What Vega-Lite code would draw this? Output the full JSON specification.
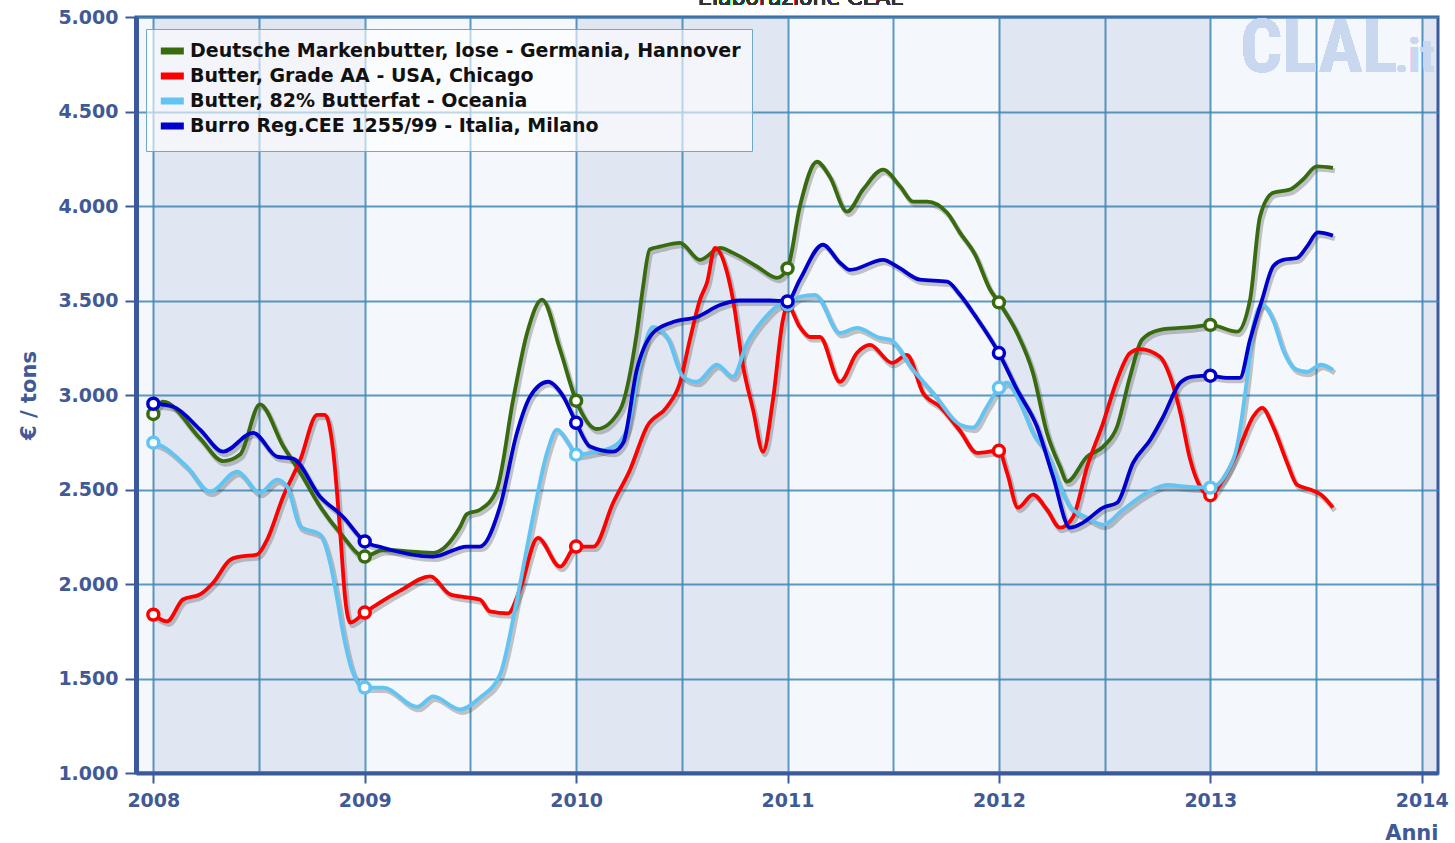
{
"$schema": "https://vega.github.io/schema/vega-lite/v6.json",
"width": 1302, "height": 756,
"autosize": "none",
"padding": {"left": 136, "top": 17, "right": 17, "bottom": 70},
"background": "#ffffff",
"config": {"view": {"fill": "#F4F7FB", "stroke": "#3A5A9B", "strokeWidth": 3}, "font": "DejaVu Sans"},
"datasets": {
"fasce": [{"da": 2008, "a": 2009}, {"da": 2010, "a": 2011}, {"da": 2012, "a": 2013}, {"da": 2014, "a": 2015}],
"serie": [
{"serie":"Deutsche Markenbutter, lose - Germania, Hannover","t":2008.000,"v":2900},
{"serie":"Deutsche Markenbutter, lose - Germania, Hannover","t":2008.046,"v":2965},
{"serie":"Deutsche Markenbutter, lose - Germania, Hannover","t":2008.221,"v":2770},
{"serie":"Deutsche Markenbutter, lose - Germania, Hannover","t":2008.330,"v":2650},
{"serie":"Deutsche Markenbutter, lose - Germania, Hannover","t":2008.410,"v":2685},
{"serie":"Deutsche Markenbutter, lose - Germania, Hannover","t":2008.504,"v":2950},
{"serie":"Deutsche Markenbutter, lose - Germania, Hannover","t":2008.614,"v":2730},
{"serie":"Deutsche Markenbutter, lose - Germania, Hannover","t":2008.695,"v":2590},
{"serie":"Deutsche Markenbutter, lose - Germania, Hannover","t":2008.789,"v":2410},
{"serie":"Deutsche Markenbutter, lose - Germania, Hannover","t":2008.884,"v":2270},
{"serie":"Deutsche Markenbutter, lose - Germania, Hannover","t":2009.000,"v":2145},
{"serie":"Deutsche Markenbutter, lose - Germania, Hannover","t":2009.087,"v":2180},
{"serie":"Deutsche Markenbutter, lose - Germania, Hannover","t":2009.324,"v":2165},
{"serie":"Deutsche Markenbutter, lose - Germania, Hannover","t":2009.450,"v":2300},
{"serie":"Deutsche Markenbutter, lose - Germania, Hannover","t":2009.483,"v":2370},
{"serie":"Deutsche Markenbutter, lose - Germania, Hannover","t":2009.545,"v":2393},
{"serie":"Deutsche Markenbutter, lose - Germania, Hannover","t":2009.625,"v":2500},
{"serie":"Deutsche Markenbutter, lose - Germania, Hannover","t":2009.702,"v":2975},
{"serie":"Deutsche Markenbutter, lose - Germania, Hannover","t":2009.768,"v":3328},
{"serie":"Deutsche Markenbutter, lose - Germania, Hannover","t":2009.839,"v":3505},
{"serie":"Deutsche Markenbutter, lose - Germania, Hannover","t":2009.924,"v":3240},
{"serie":"Deutsche Markenbutter, lose - Germania, Hannover","t":2010.000,"v":2970},
{"serie":"Deutsche Markenbutter, lose - Germania, Hannover","t":2010.098,"v":2820},
{"serie":"Deutsche Markenbutter, lose - Germania, Hannover","t":2010.207,"v":2920},
{"serie":"Deutsche Markenbutter, lose - Germania, Hannover","t":2010.287,"v":3328},
{"serie":"Deutsche Markenbutter, lose - Germania, Hannover","t":2010.315,"v":3560},
{"serie":"Deutsche Markenbutter, lose - Germania, Hannover","t":2010.348,"v":3770},
{"serie":"Deutsche Markenbutter, lose - Germania, Hannover","t":2010.396,"v":3785},
{"serie":"Deutsche Markenbutter, lose - Germania, Hannover","t":2010.491,"v":3805},
{"serie":"Deutsche Markenbutter, lose - Germania, Hannover","t":2010.586,"v":3715},
{"serie":"Deutsche Markenbutter, lose - Germania, Hannover","t":2010.681,"v":3778},
{"serie":"Deutsche Markenbutter, lose - Germania, Hannover","t":2010.742,"v":3752},
{"serie":"Deutsche Markenbutter, lose - Germania, Hannover","t":2010.855,"v":3680},
{"serie":"Deutsche Markenbutter, lose - Germania, Hannover","t":2010.950,"v":3620},
{"serie":"Deutsche Markenbutter, lose - Germania, Hannover","t":2011.000,"v":3670},
{"serie":"Deutsche Markenbutter, lose - Germania, Hannover","t":2011.058,"v":3996},
{"serie":"Deutsche Markenbutter, lose - Germania, Hannover","t":2011.139,"v":4234},
{"serie":"Deutsche Markenbutter, lose - Germania, Hannover","t":2011.200,"v":4155},
{"serie":"Deutsche Markenbutter, lose - Germania, Hannover","t":2011.281,"v":3970},
{"serie":"Deutsche Markenbutter, lose - Germania, Hannover","t":2011.357,"v":4087},
{"serie":"Deutsche Markenbutter, lose - Germania, Hannover","t":2011.452,"v":4192},
{"serie":"Deutsche Markenbutter, lose - Germania, Hannover","t":2011.533,"v":4103},
{"serie":"Deutsche Markenbutter, lose - Germania, Hannover","t":2011.594,"v":4023},
{"serie":"Deutsche Markenbutter, lose - Germania, Hannover","t":2011.661,"v":4023},
{"serie":"Deutsche Markenbutter, lose - Germania, Hannover","t":2011.755,"v":3964},
{"serie":"Deutsche Markenbutter, lose - Germania, Hannover","t":2011.816,"v":3858},
{"serie":"Deutsche Markenbutter, lose - Germania, Hannover","t":2011.887,"v":3743},
{"serie":"Deutsche Markenbutter, lose - Germania, Hannover","t":2011.958,"v":3558},
{"serie":"Deutsche Markenbutter, lose - Germania, Hannover","t":2012.000,"v":3490},
{"serie":"Deutsche Markenbutter, lose - Germania, Hannover","t":2012.086,"v":3328},
{"serie":"Deutsche Markenbutter, lose - Germania, Hannover","t":2012.161,"v":3117},
{"serie":"Deutsche Markenbutter, lose - Germania, Hannover","t":2012.227,"v":2800},
{"serie":"Deutsche Markenbutter, lose - Germania, Hannover","t":2012.289,"v":2620},
{"serie":"Deutsche Markenbutter, lose - Germania, Hannover","t":2012.322,"v":2542},
{"serie":"Deutsche Markenbutter, lose - Germania, Hannover","t":2012.417,"v":2674},
{"serie":"Deutsche Markenbutter, lose - Germania, Hannover","t":2012.493,"v":2727},
{"serie":"Deutsche Markenbutter, lose - Germania, Hannover","t":2012.559,"v":2833},
{"serie":"Deutsche Markenbutter, lose - Germania, Hannover","t":2012.620,"v":3097},
{"serie":"Deutsche Markenbutter, lose - Germania, Hannover","t":2012.677,"v":3293},
{"serie":"Deutsche Markenbutter, lose - Germania, Hannover","t":2012.762,"v":3345},
{"serie":"Deutsche Markenbutter, lose - Germania, Hannover","t":2012.918,"v":3360},
{"serie":"Deutsche Markenbutter, lose - Germania, Hannover","t":2013.000,"v":3371},
{"serie":"Deutsche Markenbutter, lose - Germania, Hannover","t":2013.126,"v":3335},
{"serie":"Deutsche Markenbutter, lose - Germania, Hannover","t":2013.188,"v":3505},
{"serie":"Deutsche Markenbutter, lose - Germania, Hannover","t":2013.235,"v":3945},
{"serie":"Deutsche Markenbutter, lose - Germania, Hannover","t":2013.297,"v":4070},
{"serie":"Deutsche Markenbutter, lose - Germania, Hannover","t":2013.377,"v":4087},
{"serie":"Deutsche Markenbutter, lose - Germania, Hannover","t":2013.438,"v":4140},
{"serie":"Deutsche Markenbutter, lose - Germania, Hannover","t":2013.504,"v":4210},
{"serie":"Deutsche Markenbutter, lose - Germania, Hannover","t":2013.580,"v":4202},
{"serie":"Butter, Grade AA - USA, Chicago","t":2008.000,"v":1838},
{"serie":"Butter, Grade AA - USA, Chicago","t":2008.065,"v":1802},
{"serie":"Butter, Grade AA - USA, Chicago","t":2008.140,"v":1918},
{"serie":"Butter, Grade AA - USA, Chicago","t":2008.221,"v":1945},
{"serie":"Butter, Grade AA - USA, Chicago","t":2008.283,"v":2007},
{"serie":"Butter, Grade AA - USA, Chicago","t":2008.363,"v":2128},
{"serie":"Butter, Grade AA - USA, Chicago","t":2008.410,"v":2145},
{"serie":"Butter, Grade AA - USA, Chicago","t":2008.490,"v":2155},
{"serie":"Butter, Grade AA - USA, Chicago","t":2008.538,"v":2234},
{"serie":"Butter, Grade AA - USA, Chicago","t":2008.614,"v":2462},
{"serie":"Butter, Grade AA - USA, Chicago","t":2008.695,"v":2657},
{"serie":"Butter, Grade AA - USA, Chicago","t":2008.775,"v":2895},
{"serie":"Butter, Grade AA - USA, Chicago","t":2008.812,"v":2895},
{"serie":"Butter, Grade AA - USA, Chicago","t":2008.850,"v":2710},
{"serie":"Butter, Grade AA - USA, Chicago","t":2008.884,"v":2270},
{"serie":"Butter, Grade AA - USA, Chicago","t":2008.908,"v":1918},
{"serie":"Butter, Grade AA - USA, Chicago","t":2008.932,"v":1796},
{"serie":"Butter, Grade AA - USA, Chicago","t":2009.000,"v":1849},
{"serie":"Butter, Grade AA - USA, Chicago","t":2009.073,"v":1903},
{"serie":"Butter, Grade AA - USA, Chicago","t":2009.168,"v":1965},
{"serie":"Butter, Grade AA - USA, Chicago","t":2009.310,"v":2040},
{"serie":"Butter, Grade AA - USA, Chicago","t":2009.404,"v":1945},
{"serie":"Butter, Grade AA - USA, Chicago","t":2009.483,"v":1929},
{"serie":"Butter, Grade AA - USA, Chicago","t":2009.545,"v":1918},
{"serie":"Butter, Grade AA - USA, Chicago","t":2009.592,"v":1855},
{"serie":"Butter, Grade AA - USA, Chicago","t":2009.678,"v":1845},
{"serie":"Butter, Grade AA - USA, Chicago","t":2009.734,"v":1971},
{"serie":"Butter, Grade AA - USA, Chicago","t":2009.819,"v":2244},
{"serie":"Butter, Grade AA - USA, Chicago","t":2009.924,"v":2092},
{"serie":"Butter, Grade AA - USA, Chicago","t":2010.000,"v":2198},
{"serie":"Butter, Grade AA - USA, Chicago","t":2010.083,"v":2198},
{"serie":"Butter, Grade AA - USA, Chicago","t":2010.175,"v":2430},
{"serie":"Butter, Grade AA - USA, Chicago","t":2010.255,"v":2605},
{"serie":"Butter, Grade AA - USA, Chicago","t":2010.335,"v":2833},
{"serie":"Butter, Grade AA - USA, Chicago","t":2010.430,"v":2938},
{"serie":"Butter, Grade AA - USA, Chicago","t":2010.491,"v":3065},
{"serie":"Butter, Grade AA - USA, Chicago","t":2010.538,"v":3293},
{"serie":"Butter, Grade AA - USA, Chicago","t":2010.586,"v":3505},
{"serie":"Butter, Grade AA - USA, Chicago","t":2010.619,"v":3595},
{"serie":"Butter, Grade AA - USA, Chicago","t":2010.657,"v":3778},
{"serie":"Butter, Grade AA - USA, Chicago","t":2010.714,"v":3648},
{"serie":"Butter, Grade AA - USA, Chicago","t":2010.742,"v":3505},
{"serie":"Butter, Grade AA - USA, Chicago","t":2010.790,"v":3150},
{"serie":"Butter, Grade AA - USA, Chicago","t":2010.837,"v":2921},
{"serie":"Butter, Grade AA - USA, Chicago","t":2010.884,"v":2700},
{"serie":"Butter, Grade AA - USA, Chicago","t":2010.931,"v":2975},
{"serie":"Butter, Grade AA - USA, Chicago","t":2010.978,"v":3397},
{"serie":"Butter, Grade AA - USA, Chicago","t":2011.000,"v":3475},
{"serie":"Butter, Grade AA - USA, Chicago","t":2011.058,"v":3360},
{"serie":"Butter, Grade AA - USA, Chicago","t":2011.106,"v":3307},
{"serie":"Butter, Grade AA - USA, Chicago","t":2011.153,"v":3307},
{"serie":"Butter, Grade AA - USA, Chicago","t":2011.248,"v":3070},
{"serie":"Butter, Grade AA - USA, Chicago","t":2011.328,"v":3222},
{"serie":"Butter, Grade AA - USA, Chicago","t":2011.390,"v":3265},
{"serie":"Butter, Grade AA - USA, Chicago","t":2011.494,"v":3170},
{"serie":"Butter, Grade AA - USA, Chicago","t":2011.565,"v":3212},
{"serie":"Butter, Grade AA - USA, Chicago","t":2011.641,"v":3011},
{"serie":"Butter, Grade AA - USA, Chicago","t":2011.721,"v":2938},
{"serie":"Butter, Grade AA - USA, Chicago","t":2011.816,"v":2810},
{"serie":"Butter, Grade AA - USA, Chicago","t":2011.896,"v":2694},
{"serie":"Butter, Grade AA - USA, Chicago","t":2012.000,"v":2705},
{"serie":"Butter, Grade AA - USA, Chicago","t":2012.038,"v":2590},
{"serie":"Butter, Grade AA - USA, Chicago","t":2012.090,"v":2404},
{"serie":"Butter, Grade AA - USA, Chicago","t":2012.161,"v":2473},
{"serie":"Butter, Grade AA - USA, Chicago","t":2012.227,"v":2394},
{"serie":"Butter, Grade AA - USA, Chicago","t":2012.289,"v":2298},
{"serie":"Butter, Grade AA - USA, Chicago","t":2012.351,"v":2356},
{"serie":"Butter, Grade AA - USA, Chicago","t":2012.417,"v":2620},
{"serie":"Butter, Grade AA - USA, Chicago","t":2012.493,"v":2853},
{"serie":"Butter, Grade AA - USA, Chicago","t":2012.559,"v":3081},
{"serie":"Butter, Grade AA - USA, Chicago","t":2012.620,"v":3222},
{"serie":"Butter, Grade AA - USA, Chicago","t":2012.667,"v":3243},
{"serie":"Butter, Grade AA - USA, Chicago","t":2012.762,"v":3202},
{"serie":"Butter, Grade AA - USA, Chicago","t":2012.810,"v":3097},
{"serie":"Butter, Grade AA - USA, Chicago","t":2012.858,"v":2906},
{"serie":"Butter, Grade AA - USA, Chicago","t":2012.905,"v":2657},
{"serie":"Butter, Grade AA - USA, Chicago","t":2012.952,"v":2515},
{"serie":"Butter, Grade AA - USA, Chicago","t":2013.000,"v":2470},
{"serie":"Butter, Grade AA - USA, Chicago","t":2013.060,"v":2552},
{"serie":"Butter, Grade AA - USA, Chicago","t":2013.140,"v":2727},
{"serie":"Butter, Grade AA - USA, Chicago","t":2013.202,"v":2885},
{"serie":"Butter, Grade AA - USA, Chicago","t":2013.245,"v":2932},
{"serie":"Butter, Grade AA - USA, Chicago","t":2013.297,"v":2833},
{"serie":"Butter, Grade AA - USA, Chicago","t":2013.363,"v":2642},
{"serie":"Butter, Grade AA - USA, Chicago","t":2013.410,"v":2525},
{"serie":"Butter, Grade AA - USA, Chicago","t":2013.476,"v":2499},
{"serie":"Butter, Grade AA - USA, Chicago","t":2013.523,"v":2473},
{"serie":"Butter, Grade AA - USA, Chicago","t":2013.580,"v":2404},
{"serie":"Butter, 82% Butterfat - Oceania","t":2008.000,"v":2748},
{"serie":"Butter, 82% Butterfat - Oceania","t":2008.046,"v":2727},
{"serie":"Butter, 82% Butterfat - Oceania","t":2008.159,"v":2620},
{"serie":"Butter, 82% Butterfat - Oceania","t":2008.268,"v":2489},
{"serie":"Butter, 82% Butterfat - Oceania","t":2008.396,"v":2594},
{"serie":"Butter, 82% Butterfat - Oceania","t":2008.504,"v":2483},
{"serie":"Butter, 82% Butterfat - Oceania","t":2008.585,"v":2552},
{"serie":"Butter, 82% Butterfat - Oceania","t":2008.633,"v":2515},
{"serie":"Butter, 82% Butterfat - Oceania","t":2008.695,"v":2304},
{"serie":"Butter, 82% Butterfat - Oceania","t":2008.789,"v":2262},
{"serie":"Butter, 82% Butterfat - Oceania","t":2008.836,"v":2113},
{"serie":"Butter, 82% Butterfat - Oceania","t":2008.870,"v":1918},
{"serie":"Butter, 82% Butterfat - Oceania","t":2008.897,"v":1743},
{"serie":"Butter, 82% Butterfat - Oceania","t":2008.944,"v":1531},
{"serie":"Butter, 82% Butterfat - Oceania","t":2009.000,"v":1452},
{"serie":"Butter, 82% Butterfat - Oceania","t":2009.087,"v":1452},
{"serie":"Butter, 82% Butterfat - Oceania","t":2009.248,"v":1350},
{"serie":"Butter, 82% Butterfat - Oceania","t":2009.324,"v":1405},
{"serie":"Butter, 82% Butterfat - Oceania","t":2009.452,"v":1336},
{"serie":"Butter, 82% Butterfat - Oceania","t":2009.545,"v":1399},
{"serie":"Butter, 82% Butterfat - Oceania","t":2009.640,"v":1521},
{"serie":"Butter, 82% Butterfat - Oceania","t":2009.720,"v":1918},
{"serie":"Butter, 82% Butterfat - Oceania","t":2009.796,"v":2357},
{"serie":"Butter, 82% Butterfat - Oceania","t":2009.862,"v":2694},
{"serie":"Butter, 82% Butterfat - Oceania","t":2009.910,"v":2817},
{"serie":"Butter, 82% Butterfat - Oceania","t":2009.962,"v":2748},
{"serie":"Butter, 82% Butterfat - Oceania","t":2010.000,"v":2684},
{"serie":"Butter, 82% Butterfat - Oceania","t":2010.066,"v":2694},
{"serie":"Butter, 82% Butterfat - Oceania","t":2010.175,"v":2727},
{"serie":"Butter, 82% Butterfat - Oceania","t":2010.241,"v":2817},
{"serie":"Butter, 82% Butterfat - Oceania","t":2010.303,"v":3170},
{"serie":"Butter, 82% Butterfat - Oceania","t":2010.363,"v":3360},
{"serie":"Butter, 82% Butterfat - Oceania","t":2010.430,"v":3307},
{"serie":"Butter, 82% Butterfat - Oceania","t":2010.506,"v":3097},
{"serie":"Butter, 82% Butterfat - Oceania","t":2010.571,"v":3070},
{"serie":"Butter, 82% Butterfat - Oceania","t":2010.666,"v":3160},
{"serie":"Butter, 82% Butterfat - Oceania","t":2010.742,"v":3097},
{"serie":"Butter, 82% Butterfat - Oceania","t":2010.808,"v":3275},
{"serie":"Butter, 82% Butterfat - Oceania","t":2010.884,"v":3397},
{"serie":"Butter, 82% Butterfat - Oceania","t":2010.964,"v":3476},
{"serie":"Butter, 82% Butterfat - Oceania","t":2011.000,"v":3480},
{"serie":"Butter, 82% Butterfat - Oceania","t":2011.058,"v":3520},
{"serie":"Butter, 82% Butterfat - Oceania","t":2011.130,"v":3530},
{"serie":"Butter, 82% Butterfat - Oceania","t":2011.248,"v":3328},
{"serie":"Butter, 82% Butterfat - Oceania","t":2011.328,"v":3355},
{"serie":"Butter, 82% Butterfat - Oceania","t":2011.437,"v":3302},
{"serie":"Butter, 82% Butterfat - Oceania","t":2011.485,"v":3293},
{"serie":"Butter, 82% Butterfat - Oceania","t":2011.594,"v":3133},
{"serie":"Butter, 82% Butterfat - Oceania","t":2011.688,"v":3011},
{"serie":"Butter, 82% Butterfat - Oceania","t":2011.816,"v":2843},
{"serie":"Butter, 82% Butterfat - Oceania","t":2011.877,"v":2827},
{"serie":"Butter, 82% Butterfat - Oceania","t":2011.943,"v":2938},
{"serie":"Butter, 82% Butterfat - Oceania","t":2012.000,"v":3038},
{"serie":"Butter, 82% Butterfat - Oceania","t":2012.038,"v":3065},
{"serie":"Butter, 82% Butterfat - Oceania","t":2012.100,"v":2959},
{"serie":"Butter, 82% Butterfat - Oceania","t":2012.161,"v":2800},
{"serie":"Butter, 82% Butterfat - Oceania","t":2012.227,"v":2694},
{"serie":"Butter, 82% Butterfat - Oceania","t":2012.289,"v":2515},
{"serie":"Butter, 82% Butterfat - Oceania","t":2012.336,"v":2410},
{"serie":"Butter, 82% Butterfat - Oceania","t":2012.417,"v":2351},
{"serie":"Butter, 82% Butterfat - Oceania","t":2012.493,"v":2314},
{"serie":"Butter, 82% Butterfat - Oceania","t":2012.587,"v":2394},
{"serie":"Butter, 82% Butterfat - Oceania","t":2012.700,"v":2483},
{"serie":"Butter, 82% Butterfat - Oceania","t":2012.795,"v":2525},
{"serie":"Butter, 82% Butterfat - Oceania","t":2012.889,"v":2515},
{"serie":"Butter, 82% Butterfat - Oceania","t":2013.000,"v":2510},
{"serie":"Butter, 82% Butterfat - Oceania","t":2013.078,"v":2590},
{"serie":"Butter, 82% Butterfat - Oceania","t":2013.126,"v":2727},
{"serie":"Butter, 82% Butterfat - Oceania","t":2013.173,"v":3081},
{"serie":"Butter, 82% Butterfat - Oceania","t":2013.202,"v":3360},
{"serie":"Butter, 82% Butterfat - Oceania","t":2013.245,"v":3480},
{"serie":"Butter, 82% Butterfat - Oceania","t":2013.297,"v":3397},
{"serie":"Butter, 82% Butterfat - Oceania","t":2013.344,"v":3240},
{"serie":"Butter, 82% Butterfat - Oceania","t":2013.410,"v":3133},
{"serie":"Butter, 82% Butterfat - Oceania","t":2013.457,"v":3123},
{"serie":"Butter, 82% Butterfat - Oceania","t":2013.523,"v":3160},
{"serie":"Butter, 82% Butterfat - Oceania","t":2013.580,"v":3133},
{"serie":"Burro Reg.CEE 1255/99 - Italia, Milano","t":2008.000,"v":2954},
{"serie":"Burro Reg.CEE 1255/99 - Italia, Milano","t":2008.094,"v":2938},
{"serie":"Burro Reg.CEE 1255/99 - Italia, Milano","t":2008.221,"v":2817},
{"serie":"Burro Reg.CEE 1255/99 - Italia, Milano","t":2008.330,"v":2700},
{"serie":"Burro Reg.CEE 1255/99 - Italia, Milano","t":2008.472,"v":2800},
{"serie":"Burro Reg.CEE 1255/99 - Italia, Milano","t":2008.585,"v":2674},
{"serie":"Burro Reg.CEE 1255/99 - Italia, Milano","t":2008.661,"v":2663},
{"serie":"Burro Reg.CEE 1255/99 - Italia, Milano","t":2008.789,"v":2462},
{"serie":"Burro Reg.CEE 1255/99 - Italia, Milano","t":2008.897,"v":2356},
{"serie":"Burro Reg.CEE 1255/99 - Italia, Milano","t":2009.000,"v":2225},
{"serie":"Burro Reg.CEE 1255/99 - Italia, Milano","t":2009.087,"v":2192},
{"serie":"Burro Reg.CEE 1255/99 - Italia, Milano","t":2009.324,"v":2145},
{"serie":"Burro Reg.CEE 1255/99 - Italia, Milano","t":2009.483,"v":2198},
{"serie":"Burro Reg.CEE 1255/99 - Italia, Milano","t":2009.545,"v":2198},
{"serie":"Burro Reg.CEE 1255/99 - Italia, Milano","t":2009.640,"v":2410},
{"serie":"Burro Reg.CEE 1255/99 - Italia, Milano","t":2009.720,"v":2800},
{"serie":"Burro Reg.CEE 1255/99 - Italia, Milano","t":2009.782,"v":2991},
{"serie":"Burro Reg.CEE 1255/99 - Italia, Milano","t":2009.867,"v":3070},
{"serie":"Burro Reg.CEE 1255/99 - Italia, Milano","t":2009.940,"v":2991},
{"serie":"Burro Reg.CEE 1255/99 - Italia, Milano","t":2010.000,"v":2853},
{"serie":"Burro Reg.CEE 1255/99 - Italia, Milano","t":2010.066,"v":2727},
{"serie":"Burro Reg.CEE 1255/99 - Italia, Milano","t":2010.175,"v":2700},
{"serie":"Burro Reg.CEE 1255/99 - Italia, Milano","t":2010.223,"v":2748},
{"serie":"Burro Reg.CEE 1255/99 - Italia, Milano","t":2010.287,"v":3133},
{"serie":"Burro Reg.CEE 1255/99 - Italia, Milano","t":2010.363,"v":3328},
{"serie":"Burro Reg.CEE 1255/99 - Italia, Milano","t":2010.458,"v":3386},
{"serie":"Burro Reg.CEE 1255/99 - Italia, Milano","t":2010.571,"v":3413},
{"serie":"Burro Reg.CEE 1255/99 - Italia, Milano","t":2010.681,"v":3476},
{"serie":"Burro Reg.CEE 1255/99 - Italia, Milano","t":2010.775,"v":3500},
{"serie":"Burro Reg.CEE 1255/99 - Italia, Milano","t":2010.917,"v":3500},
{"serie":"Burro Reg.CEE 1255/99 - Italia, Milano","t":2011.000,"v":3495},
{"serie":"Burro Reg.CEE 1255/99 - Italia, Milano","t":2011.058,"v":3610},
{"serie":"Burro Reg.CEE 1255/99 - Italia, Milano","t":2011.167,"v":3795},
{"serie":"Burro Reg.CEE 1255/99 - Italia, Milano","t":2011.248,"v":3700},
{"serie":"Burro Reg.CEE 1255/99 - Italia, Milano","t":2011.295,"v":3662},
{"serie":"Burro Reg.CEE 1255/99 - Italia, Milano","t":2011.452,"v":3715},
{"serie":"Burro Reg.CEE 1255/99 - Italia, Milano","t":2011.518,"v":3680},
{"serie":"Burro Reg.CEE 1255/99 - Italia, Milano","t":2011.627,"v":3610},
{"serie":"Burro Reg.CEE 1255/99 - Italia, Milano","t":2011.755,"v":3600},
{"serie":"Burro Reg.CEE 1255/99 - Italia, Milano","t":2011.816,"v":3530},
{"serie":"Burro Reg.CEE 1255/99 - Italia, Milano","t":2011.887,"v":3420},
{"serie":"Burro Reg.CEE 1255/99 - Italia, Milano","t":2012.000,"v":3222},
{"serie":"Burro Reg.CEE 1255/99 - Italia, Milano","t":2012.086,"v":3028},
{"serie":"Burro Reg.CEE 1255/99 - Italia, Milano","t":2012.180,"v":2833},
{"serie":"Burro Reg.CEE 1255/99 - Italia, Milano","t":2012.256,"v":2568},
{"serie":"Burro Reg.CEE 1255/99 - Italia, Milano","t":2012.336,"v":2298},
{"serie":"Burro Reg.CEE 1255/99 - Italia, Milano","t":2012.398,"v":2325},
{"serie":"Burro Reg.CEE 1255/99 - Italia, Milano","t":2012.493,"v":2404},
{"serie":"Burro Reg.CEE 1255/99 - Italia, Milano","t":2012.559,"v":2430},
{"serie":"Burro Reg.CEE 1255/99 - Italia, Milano","t":2012.635,"v":2642},
{"serie":"Burro Reg.CEE 1255/99 - Italia, Milano","t":2012.716,"v":2763},
{"serie":"Burro Reg.CEE 1255/99 - Italia, Milano","t":2012.777,"v":2885},
{"serie":"Burro Reg.CEE 1255/99 - Italia, Milano","t":2012.858,"v":3065},
{"serie":"Burro Reg.CEE 1255/99 - Italia, Milano","t":2012.918,"v":3097},
{"serie":"Burro Reg.CEE 1255/99 - Italia, Milano","t":2013.000,"v":3102},
{"serie":"Burro Reg.CEE 1255/99 - Italia, Milano","t":2013.078,"v":3091},
{"serie":"Burro Reg.CEE 1255/99 - Italia, Milano","t":2013.140,"v":3091},
{"serie":"Burro Reg.CEE 1255/99 - Italia, Milano","t":2013.188,"v":3293},
{"serie":"Burro Reg.CEE 1255/99 - Italia, Milano","t":2013.245,"v":3505},
{"serie":"Burro Reg.CEE 1255/99 - Italia, Milano","t":2013.297,"v":3680},
{"serie":"Burro Reg.CEE 1255/99 - Italia, Milano","t":2013.344,"v":3715},
{"serie":"Burro Reg.CEE 1255/99 - Italia, Milano","t":2013.410,"v":3725},
{"serie":"Burro Reg.CEE 1255/99 - Italia, Milano","t":2013.457,"v":3785},
{"serie":"Burro Reg.CEE 1255/99 - Italia, Milano","t":2013.509,"v":3860},
{"serie":"Burro Reg.CEE 1255/99 - Italia, Milano","t":2013.580,"v":3843}
]
},
"layer": [
{
"data": {"name": "fasce"},
"mark": {"type": "rect", "color": "#3661AB", "opacity": 0.1, "clip": true},
"encoding": {
"x": {"field": "da", "type": "quantitative", "title": "Anni", "scale": {"domain": [2007.918, 2014.077], "nice": false, "zero": false}},
"x2": {"field": "a"}
}
},
{
"data": {"name": "serie"},
"mark": {"type": "text", "text": "CLAL", "font": "Liberation Sans Narrow, Roboto Condensed, Roboto", "fontSize": 74, "fontWeight": "bold", "color": "#C9D7EF", "align": "left", "baseline": "alphabetic", "clip": true},
"encoding": {
"x": {"datum": 2013.141, "type": "quantitative", "title": "Anni"},
"y": {"datum": 4711, "type": "quantitative", "title": "€ / tons"}
}
},
{
"data": {"name": "serie"},
"mark": {"type": "text", "text": ".it", "font": "Liberation Sans Narrow, Roboto Condensed, Roboto", "fontSize": 46, "fontWeight": "bold", "color": "#C9D7EF", "align": "left", "baseline": "alphabetic", "clip": true},
"encoding": {
"x": {"datum": 2013.874, "type": "quantitative", "title": "Anni"},
"y": {"datum": 4711, "type": "quantitative", "title": "€ / tons"}
}
},
{
"data": {"name": "serie"},
"mark": {"type": "text", "text": "Elaborazione CLAL", "font": "DejaVu Sans", "fontSize": 22, "fontWeight": "normal", "color": "#333333", "align": "center", "baseline": "alphabetic", "clip": false},
"encoding": {
"x": {"datum": 2011.06, "type": "quantitative", "title": "Anni"},
"y": {"datum": 5063, "type": "quantitative", "title": "€ / tons"}
}
},
{
"data": {"name": "serie"},
"mark": {"type": "line", "interpolate": "monotone", "color": "#444444", "opacity": 0.3, "strokeWidth": 5, "xOffset": 2, "yOffset": 3, "clip": true},
"encoding": {
"x": {"field": "t", "type": "quantitative", "title": "Anni"},
"y": {"field": "v", "type": "quantitative", "title": "€ / tons"},
"detail": {"field": "serie"}
}
},
{
"data": {"name": "serie"},
"mark": {"type": "line", "interpolate": "monotone", "strokeWidth": 3.8, "clip": true},
"encoding": {
"x": {"field": "t", "type": "quantitative", "scale": {"domain": [2007.918, 2014.077], "nice": false, "zero": false},
"axis": {"values": [2008, 2008.5, 2009, 2009.5, 2010, 2010.5, 2011, 2011.5, 2012, 2012.5, 2013, 2013.5, 2014],
"labelExpr": "datum.value % 1 === 0 ? format(datum.value, 'd') : ''",
"labelOverlap": false, "labelFlush": false,
"tickOpacity": {"condition": {"test": "datum.value % 1 === 0", "value": 1}, "value": 0},
"tickSize": 10, "tickWidth": 2, "tickColor": "#3A5A9B",
"domainColor": "#3A5A9B", "domainWidth": 4,
"grid": true, "gridColor": "#3E8AB5", "gridWidth": 2, "gridOpacity": 0.85,
"labelFont": "DejaVu Sans", "labelFontSize": 19, "labelFontWeight": "bold", "labelColor": "#3F5A96", "labelPadding": 8,
"title": "Anni", "titleFont": "DejaVu Sans", "titleFontSize": 21, "titleFontWeight": "bold", "titleColor": "#3F5A96",
"titleAnchor": "end", "titleAlign": "right", "titlePadding": 12}},
"y": {"field": "v", "type": "quantitative", "scale": {"domain": [1000, 5000], "nice": false, "zero": false},
"axis": {"values": [1000, 1500, 2000, 2500, 3000, 3500, 4000, 4500, 5000],
"labelExpr": "replace(format(datum.value, ','), ',', '.')",
"tickSize": 11, "tickWidth": 2, "tickColor": "#3A5A9B",
"domainColor": "#3A5A9B", "domainWidth": 5,
"grid": true, "gridColor": "#3E8AB5", "gridWidth": 2, "gridOpacity": 0.85,
"labelFont": "DejaVu Sans", "labelFontSize": 19, "labelFontWeight": "bold", "labelColor": "#3F5A96", "labelPadding": 7,
"title": "€ / tons", "titleFont": "DejaVu Sans", "titleFontSize": 21, "titleFontWeight": "bold", "titleColor": "#3F5A96", "titlePadding": 18}},
"color": {"field": "serie", "type": "nominal",
"scale": {"domain": ["Deutsche Markenbutter, lose - Germania, Hannover", "Butter, Grade AA - USA, Chicago", "Butter, 82% Butterfat - Oceania", "Burro Reg.CEE 1255/99 - Italia, Milano"],
"range": ["#386A0E", "#FF0000", "#62C4F2", "#0000CC"]},
"legend": {"title": null, "orient": "none", "legendX": 10, "legendY": 12,
"fillColor": "rgba(255,255,255,0.6)", "strokeColor": "#6FA9C9", "padding": 11,
"symbolType": "M-1,0H2.2", "symbolStrokeWidth": 7, "symbolSize": 207,
"labelFont": "DejaVu Sans", "labelFontSize": 19, "labelFontWeight": "bold", "labelColor": "#111111",
"labelLimit": 800, "labelOffset": 11, "rowPadding": -5}}
}
},
{
"data": {"name": "serie"},
"transform": [{"filter": "datum.t % 1 === 0"}],
"mark": {"type": "point", "shape": "circle", "filled": true, "fill": "#ffffff", "fillOpacity": 1, "opacity": 1, "size": 120, "strokeWidth": 3.5},
"encoding": {
"x": {"field": "t", "type": "quantitative", "title": "Anni"},
"y": {"field": "v", "type": "quantitative", "title": "€ / tons"},
"stroke": {"field": "serie", "type": "nominal",
"scale": {"domain": ["Deutsche Markenbutter, lose - Germania, Hannover", "Butter, Grade AA - USA, Chicago", "Butter, 82% Butterfat - Oceania", "Burro Reg.CEE 1255/99 - Italia, Milano"],
"range": ["#386A0E", "#FF0000", "#62C4F2", "#0000CC"]},
"legend": null}
}
}
]
}
